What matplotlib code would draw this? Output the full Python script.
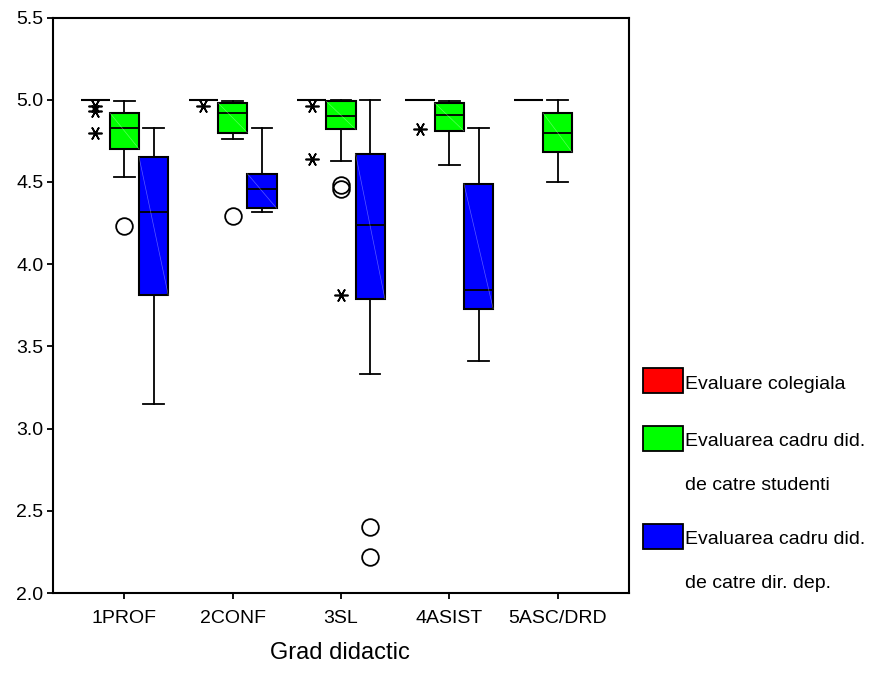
import matplotlib
matplotlib.use('Agg')
import matplotlib.pyplot as plt
from matplotlib.patches import Rectangle

plt.rcParams['font.family'] = ['Liberation Sans', 'DejaVu Sans']

grade = ['1PROF', '2CONF', '3SL', '4ASIST', '5ASC/DRD']

# Evaluare colegiala (all at 5.0)
red_lo = [5.0, 5.0, 5.0, 5.0, 5.0]
red_q1 = [5.0, 5.0, 5.0, 5.0, 5.0]
red_med = [5.0, 5.0, 5.0, 5.0, 5.0]
red_q3 = [5.0, 5.0, 5.0, 5.0, 5.0]
red_hi = [5.0, 5.0, 5.0, 5.0, 5.0]
red_star = [[4.96, 4.93, 4.80], [4.96], [4.96, 4.64], [4.82], []]
red_circ = [[], [], [], [], []]

# Evaluarea cadru did. de catre studenti
green_lo = [4.53, 4.76, 4.63, 4.60, 4.50]
green_q1 = [4.70, 4.80, 4.82, 4.81, 4.68]
green_med = [4.83, 4.92, 4.90, 4.91, 4.80]
green_q3 = [4.92, 4.98, 4.99, 4.98, 4.92]
green_hi = [4.99, 4.99, 5.0, 4.99, 5.0]
green_star = [[], [], [3.81], [], []]
green_circ = [[4.23], [4.29], [4.48, 4.46], [], []]

# Evaluarea cadru did. de catre dir. dep.
blue_lo = [3.15, 4.32, 3.33, 3.41]
blue_q1 = [3.81, 4.34, 3.79, 3.73]
blue_med = [4.32, 4.46, 4.24, 3.84]
blue_q3 = [4.65, 4.55, 4.67, 4.49]
blue_hi = [4.83, 4.83, 5.0, 4.83]
blue_star = [[], [], [], []]
blue_circ = [[], [], [2.40, 2.22], []]

series = [
    (['Evaluare colegiala'], '#ff0000', -0.27,
     red_lo, red_q1, red_med, red_q3, red_hi, red_star, red_circ),
    (['Evaluarea cadru did.', 'de catre studenti'], '#00ff00', 0.0,
     green_lo, green_q1, green_med, green_q3, green_hi, green_star, green_circ),
    (['Evaluarea cadru did.', 'de catre dir. dep.'], '#0000ff', 0.27,
     blue_lo, blue_q1, blue_med, blue_q3, blue_hi, blue_star, blue_circ),
]

W, H = 876, 691
fig = plt.figure(figsize=(8.76, 6.91), dpi=100)
ax = fig.add_axes([53 / W, 1 - 593 / H, (629 - 53) / W, (593 - 17.5) / H])

bw = 0.27
for name, col, off, lo, q1, med, q3, hi, star, circ in series:
    stats = []
    pos = []
    for i in range(len(lo)):
        stats.append(dict(whislo=lo[i], q1=q1[i], med=med[i], q3=q3[i],
                          whishi=hi[i], fliers=[]))
        pos.append(i + 1 + off)
    ax.bxp(stats, positions=pos, widths=bw, patch_artist=True,
           showfliers=False, manage_ticks=False,
           boxprops=dict(facecolor=col, edgecolor='black', linewidth=1.5),
           medianprops=dict(color='black', linewidth=1.3),
           whiskerprops=dict(color='black', linewidth=1.3),
           capprops=dict(color='black', linewidth=1.3),
           capwidths=bw * 0.7)
    for i in range(len(lo)):
        p = i + 1 + off
        if q3[i] > q1[i]:
            ax.plot([p - bw / 2, p + bw / 2], [q3[i], q1[i]], color='white',
                    lw=0.5, alpha=0.35, zorder=3)
        for v in star[i]:
            ax.plot(p, v, marker=(6, 2, 90), color='black', ms=10, mew=1.2,
                    ls='none', zorder=4)
        for v in circ[i]:
            ax.plot(p, v, marker='o', mfc='none', mec='black', ms=12, mew=1.3,
                    ls='none', zorder=4)

ax.set_xlim(0.34, 5.66)
ax.set_ylim(2.0, 5.5)
ax.set_xticks(range(1, len(grade) + 1))
ax.set_xticklabels(grade)
ax.set_yticks([2.0, 2.5, 3.0, 3.5, 4.0, 4.5, 5.0, 5.5])
ax.set_yticklabels(['2.0', '2.5', '3.0', '3.5', '4.0', '4.5', '5.0', '5.5'])
ax.tick_params(axis='both', labelsize=14, length=4, width=1.3, direction='out')
ax.tick_params(axis='y', pad=3)
ax.tick_params(axis='x', pad=8)
for s in ax.spines.values():
    s.set_linewidth(1.5)

fig.text(340 / W, 1 - 653 / H, 'Grad didactic', ha='center', va='center',
         fontsize=17)

# legend drawn by hand: patch next to first line, second line below
leg_top = [368, 426, 524]
for (lines, col, *_), top in zip(series, leg_top):
    fig.add_artist(Rectangle((643 / W, 1 - (top + 25) / H), 40 / W, 25 / H,
                             transform=fig.transFigure, facecolor=col,
                             edgecolor='black', linewidth=1.3))
    for k, txt in enumerate(lines):
        fig.text(685 / W, 1 - (top + 16 + 43 * k) / H, txt, ha='left',
                 va='center', fontsize=14)

fig.savefig('out.png', dpi=100)
